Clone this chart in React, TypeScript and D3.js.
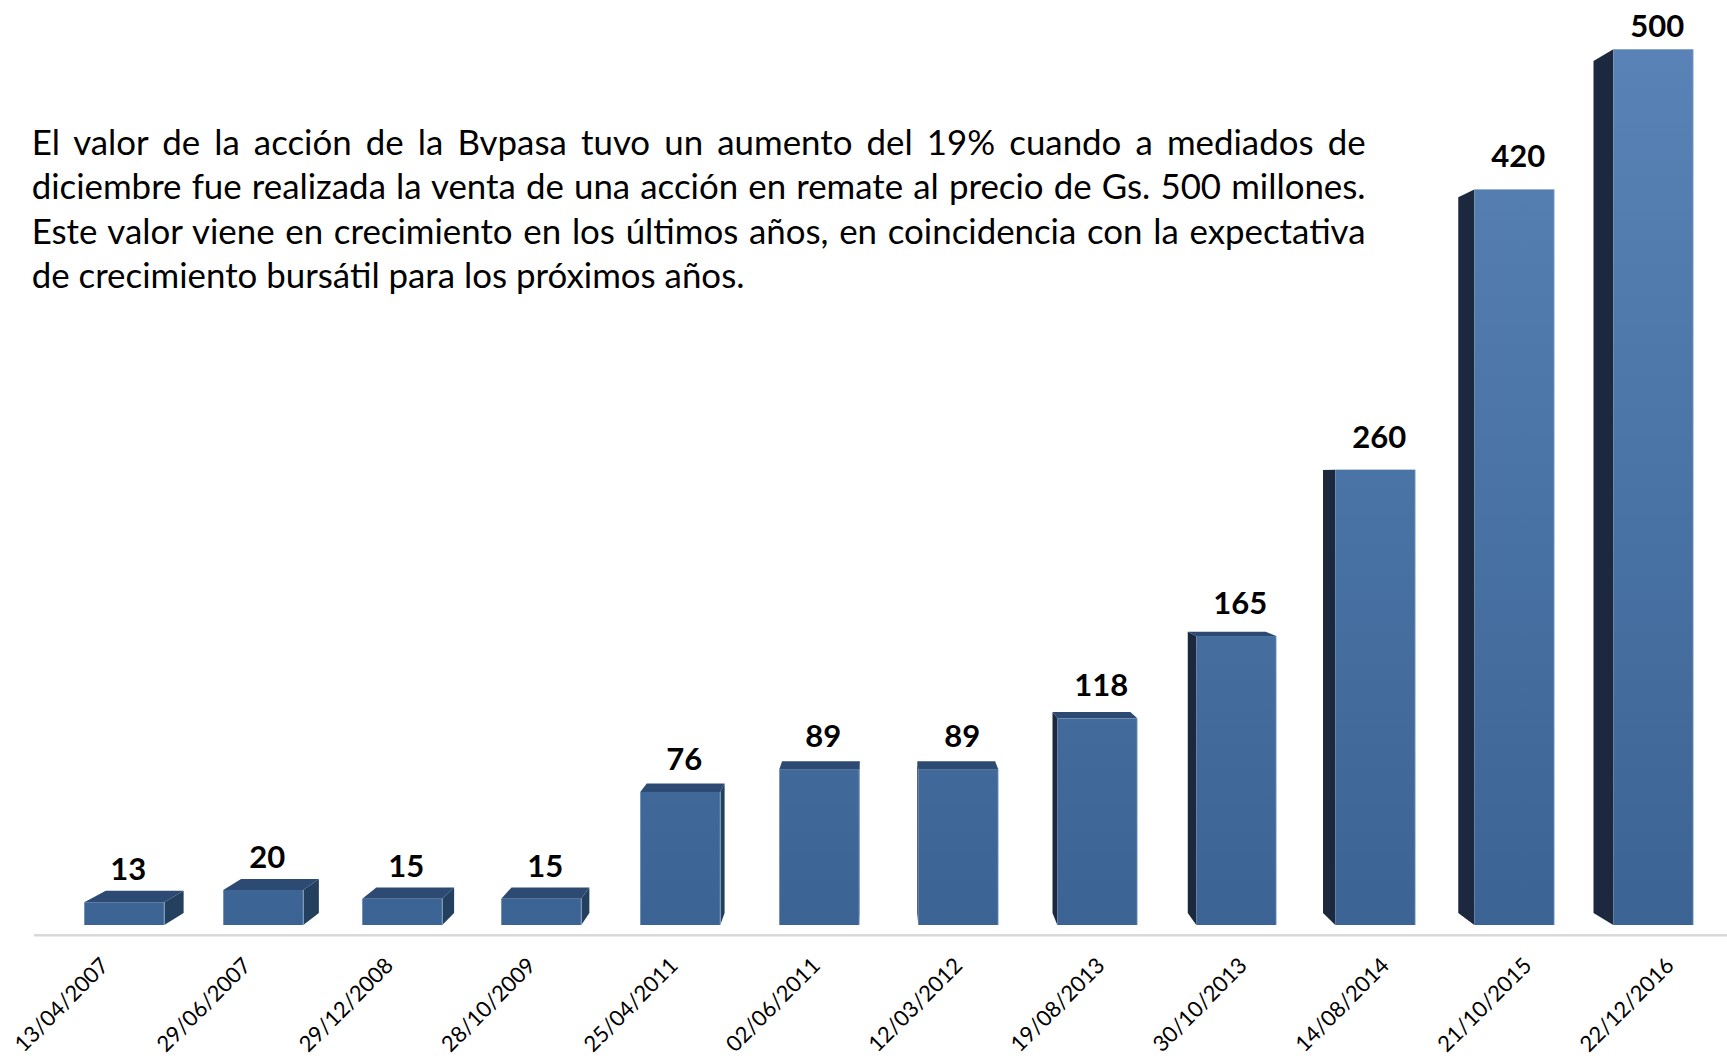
import React, { useLayoutEffect, useRef, useState } from "react";
import * as d3 from "d3";

const dates = [
  "13/04/2007", "29/06/2007", "29/12/2008", "28/10/2009", "25/04/2011", "02/06/2011",
  "12/03/2012", "19/08/2013", "30/10/2013", "14/08/2014", "21/10/2015", "22/12/2016",
];
const prices = [13, 20, 15, 15, 76, 89, 89, 118, 165, 260, 420, 500];
const noteLines = [
  "El valor de la acción de la Bvpasa tuvo un aumento del 19% cuando a mediados de",
  "diciembre fue realizada la venta de una acción en remate al precio de Gs. 500 millones.",
  "Este valor viene en crecimiento en los últimos años, en coincidencia con la expectativa",
  "de crecimiento bursátil para los próximos años.",
];

const W = 1727;
const H = 1060;
const BASE_Y = 925;
const TOP_Y = 49.3;
const VP = { x: 880, y: 480 };
const DEPTH = 0.027;
const FONT = "Lato, 'Open Sans', sans-serif";
const PARA_X = 31.7;
const PARA_W = 1334.3;
const PARA_LAST_W = 713;
const PARA_Y0 = 155;
const PARA_LH = 44.4;
const BASE_FS = 36;

export default function App() {
  const measureRefs = useRef<(SVGTextElement | null)[]>([]);
  const [fit, setFit] = useState<{ fs: number; ws: number[] } | null>(null);

  useLayoutEffect(() => {
    const measure = () => {
      const widths = measureRefs.current.map((el) => (el ? el.getComputedTextLength() : 0));
      if (!widths[3]) return;
      const fs = (BASE_FS * PARA_LAST_W) / widths[3];
      const s = fs / BASE_FS;
      const ws = noteLines.map((line, i) => {
        if (i === noteLines.length - 1) return 0;
        const spaces = line.split(" ").length - 1;
        return (PARA_W - widths[i] * s) / spaces;
      });
      setFit({ fs, ws });
    };
    measure();
    if ((document as any).fonts && (document as any).fonts.ready) {
      (document as any).fonts.ready.then(measure);
    }
  }, []);

  const x = d3
    .scaleBand<string>()
    .domain(dates)
    .range([56.5, 1721.1])
    .paddingInner(0.4245)
    .paddingOuter(0.2);
  const y = d3.scaleLinear().domain([0, d3.max(prices) as number]).range([BASE_Y, TOP_Y]);

  const back = (px: number, py: number): [number, number] => [
    px + DEPTH * (VP.x - px),
    py + DEPTH * (VP.y - py),
  ];
  const pts = (arr: [number, number][]) => arr.map((p) => p.join(",")).join(" ");

  const bw = x.bandwidth();

  return (
    <svg
      width={W}
      height={H}
      viewBox={`0 0 ${W} ${H}`}
      style={{ position: "absolute", left: 0, top: 0, background: "#ffffff" }}
    >
      <defs>
        <linearGradient id="frontGrad" gradientUnits="userSpaceOnUse" x1="0" y1={TOP_Y} x2="0" y2={BASE_Y}>
          <stop offset="0" stopColor="#5983b6" />
          <stop offset="1" stopColor="#3b6494" />
        </linearGradient>
      </defs>

      {/* hidden measuring texts */}
      <g opacity={0} aria-hidden="true">
        {noteLines.map((line, i) => (
          <text
            key={i}
            ref={(el) => {
              measureRefs.current[i] = el;
            }}
            x={0}
            y={-100}
            fontFamily={FONT}
            fontSize={BASE_FS}
            style={{ whiteSpace: "pre" }}
          >
            {line}
          </text>
        ))}
      </g>

      {/* paragraph */}
      <g>
        {noteLines.map((line, i) => (
          <text
            key={i}
            x={PARA_X}
            y={PARA_Y0 + i * PARA_LH}
            fontFamily={FONT}
            fontSize={fit ? fit.fs : BASE_FS}
            fill="#000000"
            style={{ wordSpacing: fit ? `${fit.ws[i]}px` : "0px", whiteSpace: "pre" }}
          >
            {line}
          </text>
        ))}
      </g>

      {/* axis line */}
      <line x1={34} x2={W} y1={935.3} y2={935.3} stroke="#d9d9d9" strokeWidth={2.5} />

      {/* bars */}
      {dates.map((d, i) => {
        const v = prices[i];
        const x0 = x(d) as number;
        const x1 = x0 + bw;
        const yt = y(v);
        const yb = y(0);
        const faces: JSX.Element[] = [];
        if (x1 < VP.x) {
          faces.push(
            <polygon
              key="side"
              points={pts([[x1, yt], [x1, yb], back(x1, yb), back(x1, yt)])}
              fill="#24405f"
            />
          );
        } else if (x0 > VP.x) {
          faces.push(
            <polygon
              key="side"
              points={pts([[x0, yt], [x0, yb], back(x0, yb), back(x0, yt)])}
              fill="#1b283d"
            />
          );
        }
        if (yt > VP.y) {
          faces.push(
            <polygon
              key="top"
              points={pts([[x0, yt], [x1, yt], back(x1, yt), back(x0, yt)])}
              fill="#2c4a72"
            />
          );
        }
        return (
          <g key={d}>
            {faces}
            <rect x={x0} y={yt} width={bw} height={yb - yt} fill="url(#frontGrad)" />
            <line x1={x1} x2={x1} y1={yt} y2={yb} stroke="#a9c1e0" strokeOpacity={0.55} strokeWidth={1.2} />
          </g>
        );
      })}

      {/* value labels */}
      {dates.map((d, i) => {
        const cx = (x(d) as number) + bw / 2;
        const yt = y(prices[i]);
        return (
          <text
            key={d}
            x={cx + 4}
            y={Math.max(yt - 22, 36.5)}
            textAnchor="middle"
            fontFamily={FONT}
            fontWeight={700}
            fontSize={31}
            fill="#000000"
          >
            {prices[i]}
          </text>
        );
      })}

      {/* category labels */}
      {dates.map((d) => {
        const cx = (x(d) as number) + bw / 2;
        const lx = VP.x + 1.0237 * (cx - VP.x) + 3.6;
        const ly = 967;
        return (
          <text
            key={d}
            x={lx}
            y={ly}
            transform={`rotate(-45 ${lx} ${ly})`}
            textAnchor="end"
            fontFamily={FONT}
            fontSize={22}
            fill="#000000"
          >
            {d}
          </text>
        );
      })}
    </svg>
  );
}
